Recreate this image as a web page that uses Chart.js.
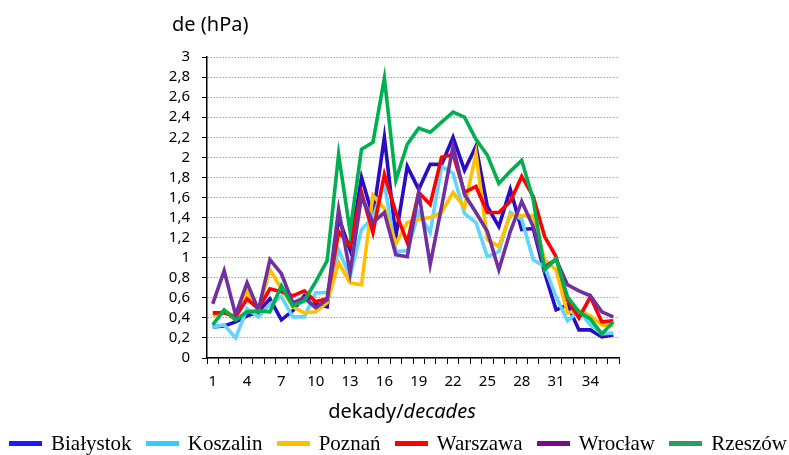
<!DOCTYPE html>
<html>
<head>
<meta charset="utf-8">
<script src="https://cdn.jsdelivr.net/npm/chart.js@4.4.1/dist/chart.umd.min.js"></script>
<style>
  html, body { margin: 0; padding: 0; background: #fff; }
  #wrap { position: relative; width: 789px; height: 455px; }
  #legend {
    position: absolute; left: 0; right: 0; top: 430px; height: 26px;
    display: flex; justify-content: space-between; align-items: center;
    padding: 0 2px 0 9px; box-sizing: border-box;
    font-family: "Liberation Serif", "DejaVu Serif", serif; font-size: 21px; color: #000;
  }
  #legend .item { display: flex; align-items: center; white-space: nowrap; }
  #legend .mark { display: inline-block; width: 33px; height: 5px; margin-right: 9px; }
</style>
</head>
<body>
<div id="wrap">
  <canvas id="chart" width="789" height="455"></canvas>
  <div id="legend"></div>
</div>
<script>
// decades 1..36
const decades = Array.from({length: 36}, (_, i) => String(i + 1));

const stations = ['Białystok', 'Koszalin', 'Poznań', 'Warszawa', 'Wrocław', 'Rzeszów'];
const lineColors = ['#2a0cc4', '#62d4ff', '#ffc000', '#ff0000', '#7030a0', '#00b050'];
const legendColors = ['#1a1aff', '#33ccff', '#ffc000', '#ff0000', '#7a0a8c', '#2e9e5b'];

const bialystok = [0.31, 0.32, 0.36, 0.42, 0.46, 0.59, 0.38, 0.47, 0.62, 0.54, 0.51, 1.40,
  1.08, 1.80, 1.41, 2.20, 1.21, 1.91, 1.68, 1.93, 1.93, 2.20, 1.87, 2.11,
  1.51, 1.31, 1.68, 1.28, 1.29, 0.85, 0.48, 0.53, 0.28, 0.28, 0.21, 0.23];
const koszalin = [0.31, 0.33, 0.20, 0.49, 0.41, 0.54, 0.61, 0.41, 0.41, 0.65, 0.65, 1.08,
  0.81, 1.28, 1.40, 1.74, 1.06, 1.07, 1.45, 1.25, 1.91, 1.84, 1.44, 1.35,
  1.01, 1.06, 1.45, 1.38, 0.98, 0.91, 0.61, 0.37, 0.47, 0.33, 0.24, 0.25];
const poznan = [0.42, 0.47, 0.41, 0.67, 0.47, 0.88, 0.69, 0.51, 0.45, 0.46, 0.55, 0.95,
  0.75, 0.73, 1.62, 1.49, 1.14, 1.35, 1.38, 1.40, 1.45, 1.65, 1.50, 2.04,
  1.18, 1.11, 1.43, 1.42, 1.42, 0.98, 0.88, 0.45, 0.47, 0.42, 0.33, 0.32];
const warszawa = [0.45, 0.45, 0.41, 0.59, 0.49, 0.69, 0.66, 0.62, 0.67, 0.56, 0.59, 1.26,
  1.12, 1.65, 1.25, 1.83, 1.45, 1.15, 1.65, 1.53, 2.00, 2.03, 1.65, 1.71,
  1.45, 1.45, 1.56, 1.81, 1.61, 1.21, 1.01, 0.58, 0.40, 0.61, 0.36, 0.37];
const wroclaw = [0.54, 0.87, 0.43, 0.75, 0.48, 0.98, 0.84, 0.55, 0.60, 0.50, 0.58, 1.48,
  0.85, 1.61, 1.35, 1.45, 1.03, 1.01, 1.65, 0.93, 1.51, 2.11, 1.63, 1.45,
  1.26, 0.88, 1.26, 1.56, 1.31, 0.91, 0.98, 0.73, 0.67, 0.62, 0.46, 0.41];
const rzeszow = [0.33, 0.48, 0.38, 0.46, 0.47, 0.46, 0.72, 0.52, 0.57, 0.76, 0.97, 2.03,
  1.26, 2.08, 2.15, 2.79, 1.77, 2.13, 2.29, 2.25, 2.35, 2.45, 2.40, 2.18,
  2.02, 1.74, 1.86, 1.97, 1.58, 0.88, 0.99, 0.61, 0.46, 0.39, 0.24, 0.36];

const series = [bialystok, koszalin, poznan, warszawa, wroclaw, rzeszow];

const tickFont = { family: '"Noto Sans", "Open Sans", sans-serif', size: 15 };
const titleFont = '20px "Noto Sans", "Open Sans", sans-serif';
const titleItalic = 'italic 20px "Noto Sans", "Open Sans", sans-serif';

// axis titles: y title above the axis, x title with italic English part
const axisTitles = {
  id: 'axisTitles',
  afterDraw(chart) {
    const ctx = chart.ctx;
    const area = chart.chartArea;
    ctx.save();
    ctx.fillStyle = '#000';
    ctx.textBaseline = 'middle';
    ctx.font = titleFont;
    ctx.textAlign = 'left';
    ctx.fillText('de (hPa)', 172, 25);

    const a = 'dekady/', b = 'decades';
    const wa = ctx.measureText(a).width;
    ctx.font = titleItalic;
    const wb = ctx.measureText(b).width;
    const x0 = (area.left + area.right) / 2 - 11 - (wa + wb) / 2;
    ctx.font = titleFont;
    ctx.fillText(a, x0, 412);
    ctx.font = titleItalic;
    ctx.fillText(b, x0 + wa, 412);
    ctx.restore();
  }
};

new Chart(document.getElementById('chart'), {
  type: 'line',
  data: {
    labels: decades,
    datasets: series.map((values, i) => ({
      label: stations[i],
      data: values,
      borderColor: lineColors[i],
      backgroundColor: lineColors[i],
      borderWidth: 3.6,
      pointRadius: 0,
      tension: 0,
      order: series.length - 1 - i
    }))
  },
  options: {
    responsive: false,
    animation: false,
    layout: { padding: { top: 57, right: 170, left: 0, bottom: 31 } },
    plugins: { legend: { display: false }, tooltip: { enabled: false } },
    scales: {
      x: {
        offset: true,
        afterFit(scale) { scale.height = 66; },
        grid: { drawOnChartArea: false, drawTicks: true, tickLength: 6, offset: true, tickColor: '#000' },
        border: { color: '#000', width: 1.5 },
        ticks: {
          autoSkip: false, maxRotation: 0, padding: 9, color: '#000', font: tickFont,
          callback: (v, i) => (i % 3 === 0 ? decades[i] : '')
        }
      },
      y: {
        min: 0, max: 3,
        afterFit(scale) { scale.width = 207; },
        grid: { color: '#a6a6a6', lineWidth: 1, tickLength: 5, tickColor: '#000', tickBorderDash: [], borderDash: [1.5, 1.5] },
        border: { color: '#000', width: 1.5, dash: [1.5, 1.5] },
        ticks: {
          stepSize: 0.2, autoSkip: false, padding: 12, color: '#000', font: tickFont,
          callback: v => (Math.round(v * 10) / 10).toString().replace('.', ',')
        }
      }
    }
  },
  plugins: [axisTitles]
});

// legend row below the chart
const legend = document.getElementById('legend');
stations.forEach((name, i) => {
  const item = document.createElement('span');
  item.className = 'item';
  const mark = document.createElement('span');
  mark.className = 'mark';
  mark.style.background = legendColors[i];
  item.appendChild(mark);
  item.appendChild(document.createTextNode(name));
  legend.appendChild(item);
});
</script>
</body>
</html>
